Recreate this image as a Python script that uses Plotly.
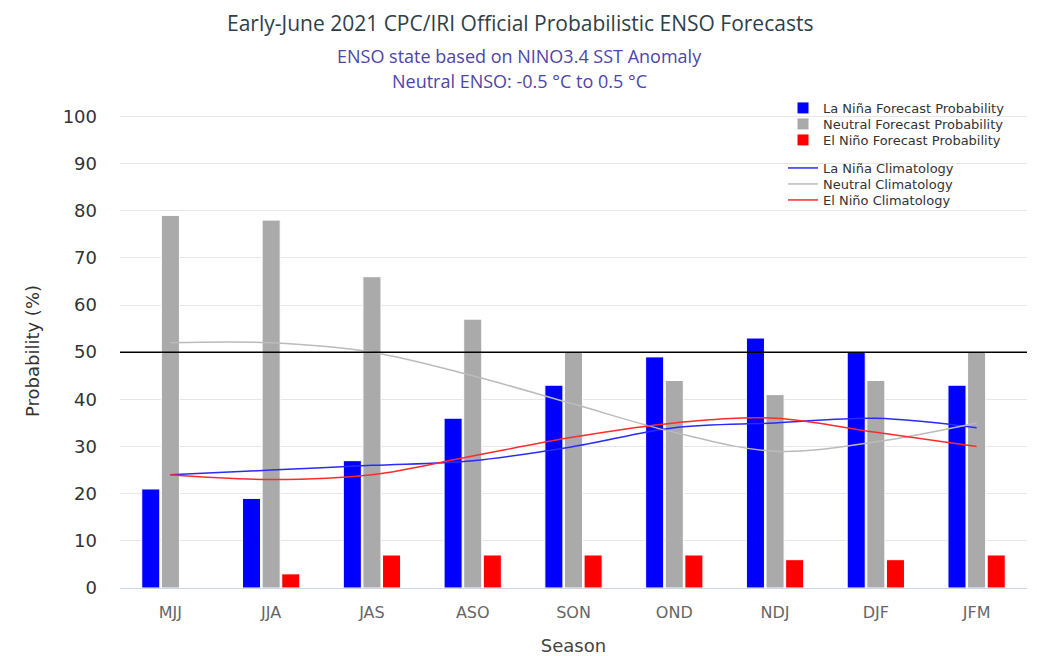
import plotly.graph_objects as go

seasons = ["MJJ", "JJA", "JAS", "ASO", "SON", "OND", "NDJ", "DJF", "JFM"]
la_nina_prob = [21, 19, 27, 36, 43, 49, 53, 50, 43]
neutral_prob = [79, 78, 66, 57, 50, 44, 41, 44, 50]
el_nino_prob = [0, 3, 7, 7, 7, 7, 6, 6, 7]
la_nina_clim = [24, 25, 26, 27, 30, 34, 35, 36, 34]
neutral_clim = [52, 52, 50, 45, 39, 33, 29, 31, 35]
el_nino_clim = [24, 23, 24, 28, 32, 35, 36, 33, 30]
y_ticks = [0, 10, 20, 30, 40, 50, 60, 70, 80, 90, 100]

fig = go.Figure()
bar_line = dict(color="white", width=1)
fig.add_bar(x=seasons, y=la_nina_prob, name="La Niña Forecast Probability",
            marker=dict(color="#0000ff", line=bar_line), legend="legend")
fig.add_bar(x=seasons, y=neutral_prob, name="Neutral Forecast Probability",
            marker=dict(color="#aaaaaa", line=bar_line), legend="legend2")
fig.add_bar(x=seasons, y=el_nino_prob, name="El Niño Forecast Probability",
            marker=dict(color="#ff0000", line=bar_line), legend="legend3")
fig.add_scatter(x=seasons, y=la_nina_clim, name="La Niña Climatology", mode="lines",
                line=dict(color="#2a2aff", width=1.5, shape="spline"), legend="legend4")
fig.add_scatter(x=seasons, y=neutral_clim, name="Neutral Climatology", mode="lines",
                line=dict(color="#bbbbbb", width=1.5, shape="spline"), legend="legend5")
fig.add_scatter(x=seasons, y=el_nino_clim, name="El Niño Climatology", mode="lines",
                line=dict(color="#ff2a2a", width=1.5, shape="spline"), legend="legend6")

fig.add_shape(type="line", xref="paper", x0=0, x1=1, yref="y", y0=50, y1=50,
              line=dict(color="black", width=1.5))

plot_top = 106
plot_h = 474
legend_rows_px = [100, 116, 132, 160, 176, 192]


def legend_at(py):
    return dict(x=0.731, y=1 + (plot_top - py) / plot_h, xanchor="left", yanchor="middle",
                bgcolor="rgba(0,0,0,0)", borderwidth=0,
                font=dict(size=13, color="#333333"))


legends = {("legend" if i == 0 else "legend%d" % (i + 1)): legend_at(py)
           for i, py in enumerate(legend_rows_px)}

title_x = 0.441
fig.update_layout(
    width=1037, height=656,
    margin=dict(l=112, r=18, t=106, b=76),
    paper_bgcolor="white", plot_bgcolor="white",
    barmode="group", bargap=0.416, bargroupgap=0.08,
    font=dict(family="DejaVu Sans", color="#333333"),
    showlegend=True,
    xaxis=dict(tickfont=dict(size=16, color="#666666"), showgrid=False,
               showline=True, linecolor="#ccd6eb", linewidth=1, ticklabelstandoff=10,
               title=dict(text="Season", font=dict(size=18, color="#444444"), standoff=18)),
    yaxis=dict(range=[0, 100.5], tickvals=y_ticks, tickfont=dict(size=18, color="#333333"),
               gridcolor="#e6e6e6", gridwidth=1, zeroline=False, ticklabelstandoff=22,
               title=dict(text="Probability (%)", font=dict(size=18, color="#333333"), standoff=18)),
    annotations=[
        dict(text="Early-June 2021 CPC/IRI Official Probabilistic ENSO Forecasts",
             xref="paper", yref="paper", x=title_x, y=1.0, yshift=91, showarrow=False,
             xanchor="center", yanchor="middle",
             font=dict(family="Open Sans", size=21, color="#2f3f48")),
        dict(text="ENSO state based on NINO3.4 SST Anomaly",
             xref="paper", yref="paper", x=title_x, y=1.0, yshift=58, showarrow=False,
             xanchor="center", yanchor="middle",
             font=dict(family="Open Sans", size=18, color="#4e45a8")),
        dict(text="Neutral ENSO: -0.5 °C to 0.5 °C",
             xref="paper", yref="paper", x=title_x, y=1.0, yshift=33, showarrow=False,
             xanchor="center", yanchor="middle",
             font=dict(family="Open Sans", size=18, color="#4e45a8")),
    ],
    **legends,
)

fig.write_html("out.html")
